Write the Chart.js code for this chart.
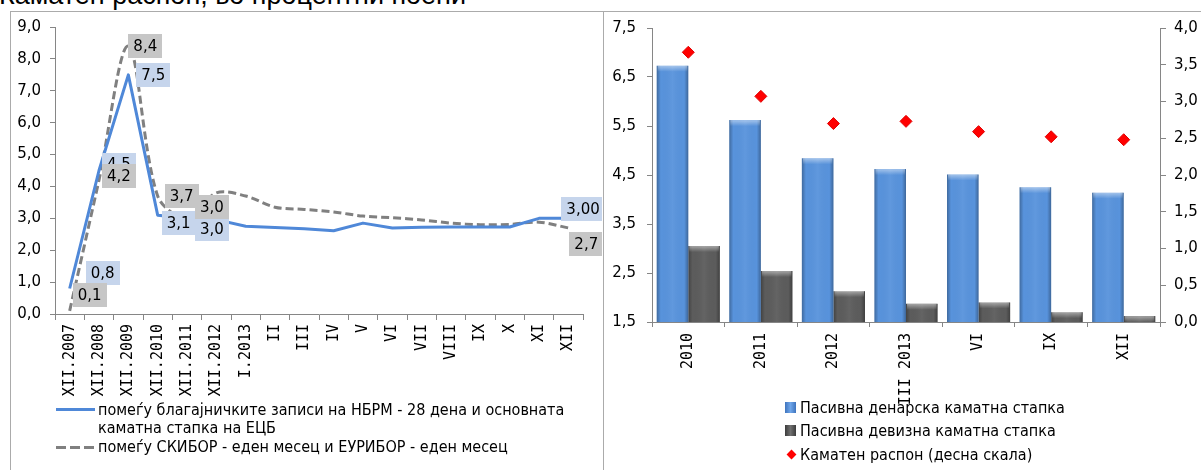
<!DOCTYPE html>
<html>
<head>
<meta charset="utf-8">
<script src="https://cdn.jsdelivr.net/npm/chart.js@4.4.1/dist/chart.umd.min.js"></script>
<style>
  html, body { margin: 0; padding: 0; background: #fff; }
  body { width: 1201px; height: 470px; position: relative; overflow: hidden; }
  #title { position: absolute; left: -1px; top: -17px; font: 27px/25px "Liberation Sans", Arial, sans-serif; color: #000; white-space: nowrap; }
  .frame { position: absolute; border: 1px solid #ababab; box-sizing: border-box; }
  #leftFrame { left: 10px; top: 11px; width: 594px; height: 480px; }
  #rightFrame { left: 603px; top: 11px; width: 620px; height: 480px; }
  canvas { position: absolute; top: 0; }
  #spreadChart { left: 0; }
  #rateChart { left: 603px; }
  .lg { position: absolute; font-family: "DejaVu Sans Condensed", "DejaVu Sans", sans-serif; font-stretch: condensed; font-size: 16px; line-height: 18px; color: #000; white-space: nowrap; }
  .swatch { position: absolute; }
</style>
</head>
<body>
<div id="title">Каматен распон, во процентни поени</div>
<div class="frame" id="leftFrame"></div>
<div class="frame" id="rightFrame"></div>
<canvas id="spreadChart" width="602" height="470"></canvas>
<canvas id="rateChart" width="598" height="470"></canvas>

<!-- legend of the spread chart -->
<div class="swatch" style="left:56px;top:408px;width:39px;height:3px;background:#4f88d8;"></div>
<div class="lg" style="left:98px;top:401px;">помеѓу благајничките записи на НБРМ - 28 дена и основната</div>
<div class="lg" style="left:98px;top:419px;">каматна стапка на ЕЦБ</div>
<div class="swatch" style="left:56px;top:446px;width:39px;height:3px;background:repeating-linear-gradient(to right,#808080 0 10px,transparent 10px 14px);"></div>
<div class="lg" style="left:98px;top:438px;">помеѓу СКИБОР - еден месец и ЕУРИБОР - еден месец</div>

<!-- legend of the rate chart -->
<div class="swatch" style="left:785px;top:402px;width:11px;height:11px;background:linear-gradient(to right,#3f74bd,#6fa6ea 50%,#3f74bd);"></div>
<div class="lg" style="left:800px;top:399px;">Пасивна денарска каматна стапка</div>
<div class="swatch" style="left:785px;top:425px;width:11px;height:11px;background:linear-gradient(to right,#3c3c3c,#707070 50%,#3c3c3c);"></div>
<div class="lg" style="left:800px;top:422px;">Пасивна девизна каматна стапка</div>
<div class="swatch" style="left:788px;top:451px;width:7px;height:7px;background:#ff0000;transform:rotate(45deg);"></div>
<div class="lg" style="left:800px;top:446px;">Каматен распон (десна скала)</div>

<script>
// ---- spread chart data ----
const spreadCategories = ['XII.2007', 'XII.2008', 'XII.2009', 'XII.2010', 'XII.2011', 'XII.2012', 'I.2013',
  'II', 'III', 'IV', 'V', 'VI', 'VII', 'VIII', 'IX', 'X', 'XI', 'XII'];
const spreadBills = [0.8, 4.5, 7.5, 3.1, 3.0, 2.96, 2.75, 2.71, 2.67, 2.61, 2.85, 2.70, 2.72, 2.73, 2.73, 2.73, 3.0, 3.00];
const spreadSkibor = [0.1, 4.2, 8.4, 3.7, 3.0, 3.8, 3.7, 3.35, 3.28, 3.2, 3.07, 3.02, 2.95, 2.85, 2.8, 2.81, 2.88, 2.7];
const spreadTicks = [0, 1, 2, 3, 4, 5, 6, 7, 8, 9];

// ---- rate chart data ----
const rateCategories = ['2010', '2011', '2012', 'III 2013', 'VI', 'IX', 'XII'];
const denarRate = [6.73, 5.62, 4.84, 4.62, 4.51, 4.25, 4.14];
const foreignRate = [3.05, 2.54, 2.13, 1.87, 1.90, 1.70, 1.62];
const rateSpread = [3.67, 3.07, 2.70, 2.73, 2.59, 2.52, 2.48];
const rateLeftTicks = [1.5, 2.5, 3.5, 4.5, 5.5, 6.5, 7.5];
const rateRightTicks = [0, 0.5, 1, 1.5, 2, 2.5, 3, 3.5, 4];

// which points carry a value label, and where the label box sits relative to the point
const spreadLabels = [
  { ds: 0, i: 0, dx: 16, dy: -15, dec: 1 },
  { ds: 0, i: 1, dx: 3, dy: -6, dec: 1 },
  { ds: 0, i: 2, dx: 8, dy: 0, dec: 1 },
  { ds: 0, i: 3, dx: 4, dy: 8, dec: 1 },
  { ds: 0, i: 4, dx: 8, dy: 11, dec: 1 },
  { ds: 0, i: 17, dx: -7, dy: -9, dec: 2 },
  { ds: 1, i: 0, dx: 3, dy: -16, dec: 1 },
  { ds: 1, i: 1, dx: 3, dy: -4, dec: 1 },
  { ds: 1, i: 2, dx: 0, dy: 0, dec: 1 },
  { ds: 1, i: 3, dx: 7, dy: 0, dec: 1 },
  { ds: 1, i: 4, dx: 8, dy: -11, dec: 1 },
  { ds: 1, i: 17, dx: 1, dy: 16, dec: 1 }
];
const labelFill = ['#c6d5ec', '#c6c6c6'];

const AXIS = '#868686';
const TICK_FONT = { family: 'DejaVu Sans', size: 15 };
const CAT_FONT = { family: 'DejaVu Sans Mono', size: 15 };
const fmt = (v, d) => v.toFixed(d).replace('.', ',');

Chart.defaults.color = '#000';

// value labels with a filled box, drawn over the lines
const valueBoxes = {
  id: 'valueBoxes',
  afterDatasetsDraw(chart) {
    const ctx = chart.ctx;
    ctx.save();
    ctx.font = '15px "DejaVu Sans"';
    ctx.textBaseline = 'middle';
    ctx.textAlign = 'left';
    for (const s of spreadLabels) {
      const el = chart.getDatasetMeta(s.ds).data[s.i];
      const v = chart.data.datasets[s.ds].data[s.i];
      const txt = fmt(v, s.dec);
      const w = ctx.measureText(txt).width + 10;
      const h = 24;
      const x = el.x + s.dx;
      const y = el.y + s.dy;
      ctx.fillStyle = labelFill[s.ds];
      ctx.fillRect(Math.round(x), Math.round(y - h / 2), Math.round(w), h);
      ctx.fillStyle = '#000';
      ctx.fillText(txt, x + 5, y + 1);
    }
    ctx.restore();
  }
};

new Chart(document.getElementById('spreadChart'), {
  type: 'line',
  data: {
    labels: spreadCategories,
    datasets: [
      { data: spreadBills, borderColor: '#4f88d8', borderWidth: 3, pointRadius: 0, tension: 0, borderJoinStyle: 'round' },
      { data: spreadSkibor, borderColor: '#808080', borderWidth: 3, borderDash: [8, 4], pointRadius: 0, tension: 0.33 }
    ]
  },
  options: {
    responsive: false,
    animation: false,
    devicePixelRatio: 1,
    layout: { padding: { left: 0, right: 19, top: 27, bottom: 66 } },
    plugins: { legend: { display: false }, tooltip: { enabled: false } },
    scales: {
      x: {
        offset: true,
        grid: { offset: true, drawOnChartArea: false, tickLength: 6, color: AXIS },
        border: { color: AXIS },
        ticks: { autoSkip: false, minRotation: 90, maxRotation: 90, padding: 4, font: CAT_FONT },
        afterFit: s => { s.height = 90; }
      },
      y: {
        min: 0, max: 9,
        afterBuildTicks: s => { s.ticks = spreadTicks.map(v => ({ value: v })); },
        grid: { drawOnChartArea: false, tickLength: 5, color: AXIS },
        border: { color: AXIS },
        ticks: { padding: 9, font: TICK_FONT, callback: v => fmt(v, 1) },
        afterFit: s => { s.width = 55; }
      }
    }
  },
  plugins: [valueBoxes]
});

// bevel shading on top of the plain bars (kept inside the plot area)
const barBevel = {
  id: 'barBevel',
  afterDatasetDraw(chart, args) {
    const meta = args.meta;
    if (meta.type !== 'bar') return;
    const ctx = chart.ctx;
    const area = chart.chartArea;
    ctx.save();
    ctx.beginPath();
    ctx.rect(area.left, area.top, area.right - area.left, area.bottom - area.top);
    ctx.clip();
    for (const el of meta.data) {
      const x = el.x, y = el.y, base = el.base, width = el.width;
      if (!(width > 0) || !(base > y)) continue;
      const l = x - width / 2, r = x + width / 2;
      const g = ctx.createLinearGradient(l, 0, r, 0);
      g.addColorStop(0, 'rgba(0,0,0,0.28)');
      g.addColorStop(0.13, 'rgba(0,0,0,0)');
      g.addColorStop(0.5, 'rgba(255,255,255,0.05)');
      g.addColorStop(0.87, 'rgba(0,0,0,0)');
      g.addColorStop(1, 'rgba(0,0,0,0.3)');
      ctx.fillStyle = g;
      ctx.fillRect(l, y, width, base - y);
      const t = ctx.createLinearGradient(0, y, 0, y + 6);
      t.addColorStop(0, 'rgba(255,255,255,0.45)');
      t.addColorStop(1, 'rgba(255,255,255,0)');
      ctx.fillStyle = t;
      ctx.fillRect(l + 1, y, width - 2, 6);
    }
    ctx.restore();
  }
};

new Chart(document.getElementById('rateChart'), {
  type: 'bar',
  data: {
    labels: rateCategories,
    datasets: [
      { label: 'Пасивна денарска каматна стапка', data: denarRate, backgroundColor: '#5893dc', yAxisID: 'y', order: 1,
        categoryPercentage: 0.87, barPercentage: 1 },
      { label: 'Пасивна девизна каматна стапка', data: foreignRate, backgroundColor: '#5c5c5c', yAxisID: 'y', order: 1,
        categoryPercentage: 0.87, barPercentage: 1 },
      { type: 'line', label: 'Каматен распон (десна скала)', data: rateSpread, yAxisID: 'y1', order: 0,
        showLine: false, pointStyle: 'rectRot', pointRadius: 6, pointBackgroundColor: '#ff0000',
        pointBorderColor: '#e00000', pointBorderWidth: 1 }
    ]
  },
  options: {
    responsive: false,
    animation: false,
    devicePixelRatio: 1,
    layout: { padding: { left: 0, right: 0, top: 28, bottom: 48 } },
    plugins: { legend: { display: false }, tooltip: { enabled: false } },
    scales: {
      x: {
        grid: { offset: true, drawOnChartArea: false, tickLength: 5, color: AXIS },
        border: { color: AXIS },
        ticks: { autoSkip: false, minRotation: 90, maxRotation: 90, padding: 6, font: CAT_FONT },
        afterFit: s => { s.height = 100; }
      },
      y: {
        position: 'left',
        min: 1.5, max: 7.5,
        afterBuildTicks: s => { s.ticks = rateLeftTicks.map(v => ({ value: v })); },
        grid: { drawOnChartArea: false, tickLength: 5, color: AXIS },
        border: { color: AXIS },
        ticks: { padding: 11, font: TICK_FONT, callback: v => fmt(v, 1) },
        afterFit: s => { s.width = 49; }
      },
      y1: {
        position: 'right',
        min: 0, max: 4,
        afterBuildTicks: s => { s.ticks = rateRightTicks.map(v => ({ value: v })); },
        grid: { drawOnChartArea: false, tickLength: 6, color: AXIS },
        border: { color: AXIS },
        ticks: { padding: 8, font: TICK_FONT, callback: v => fmt(v, 1) },
        afterFit: s => { s.width = 41; }
      }
    }
  },
  plugins: [barBevel]
});
</script>
</body>
</html>
